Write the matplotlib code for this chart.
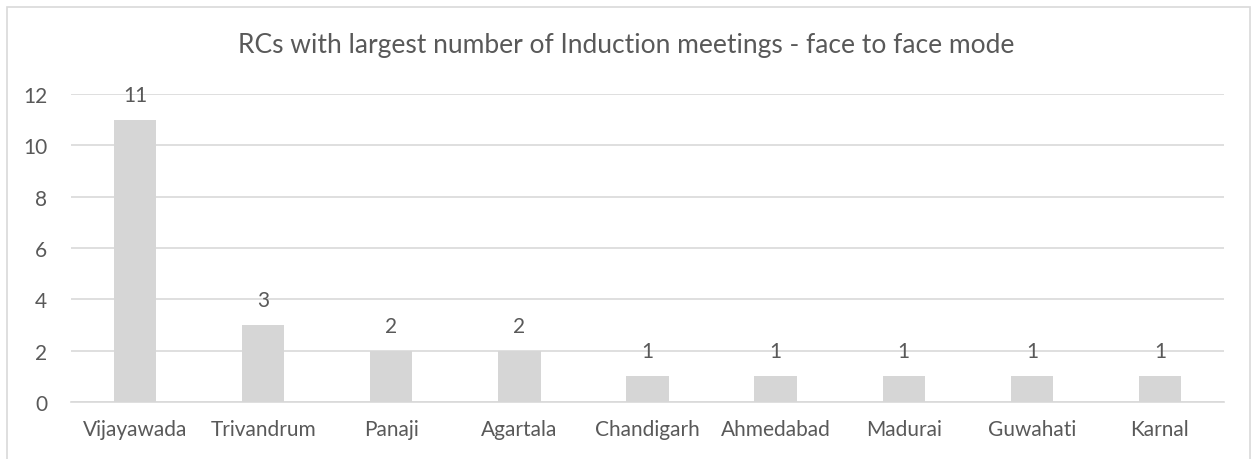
import matplotlib.pyplot as plt
from matplotlib.patches import Rectangle
import numpy as np

# data
centres = ["Vijayawada", "Trivandrum", "Panaji", "Agartala", "Chandigarh",
           "Ahmedabad", "Madurai", "Guwahati", "Karnal"]
meetings = [11, 3, 2, 2, 1, 1, 1, 1, 1]
yticks = [0, 2, 4, 6, 8, 10, 12]

plt.rcParams['font.family'] = ['Lato', 'DejaVu Sans']
txt = '#595959'
grid = '#d9d9d9'

fig = plt.figure(figsize=(12.53, 4.6), dpi=100)
W, H = 1253, 460
ax = fig.add_axes([71 / W, 1 - 403 / H, (1224 - 71) / W, (403 - 95) / H])

# chart outline (bottom is cut off in the reference)
fig.patches.append(Rectangle((7 / W, -0.05), (1250 - 7) / W, 1.05 - 8 / H,
                             transform=fig.transFigure, fill=False,
                             edgecolor=grid, linewidth=1.2))

x = np.arange(len(centres))
ax.bar(x, meetings, width=0.33, color='#d6d6d6', edgecolor='none', zorder=3)

for xi, v in zip(x, meetings):
    ax.annotate(str(v), (xi, v), xytext=(0, 18), textcoords='offset points',
                ha='center', va='center', fontsize=15, color=txt)

ax.set_xlim(-0.5, len(centres) - 0.5)
ax.set_ylim(0, 12)
ax.set_yticks(yticks)
ax.set_xticks(x)
ax.set_xticklabels(centres)
ax.yaxis.grid(True, color=grid, linewidth=1.2, zorder=0)
ax.set_axisbelow(True)
for s in ['top', 'right', 'left']:
    ax.spines[s].set_visible(False)
ax.spines['bottom'].set_color(grid)
ax.spines['bottom'].set_linewidth(1.2)
ax.tick_params(axis='both', length=0, labelsize=15, colors=txt)
ax.tick_params(axis='y', pad=17)
ax.tick_params(axis='x', pad=12)

fig.text(0.5, 1 - 45 / H, "RCs with largest number of Induction meetings - face to face mode",
         ha='center', va='center', fontsize=19, color=txt)

fig.savefig("out.png", dpi=100)
